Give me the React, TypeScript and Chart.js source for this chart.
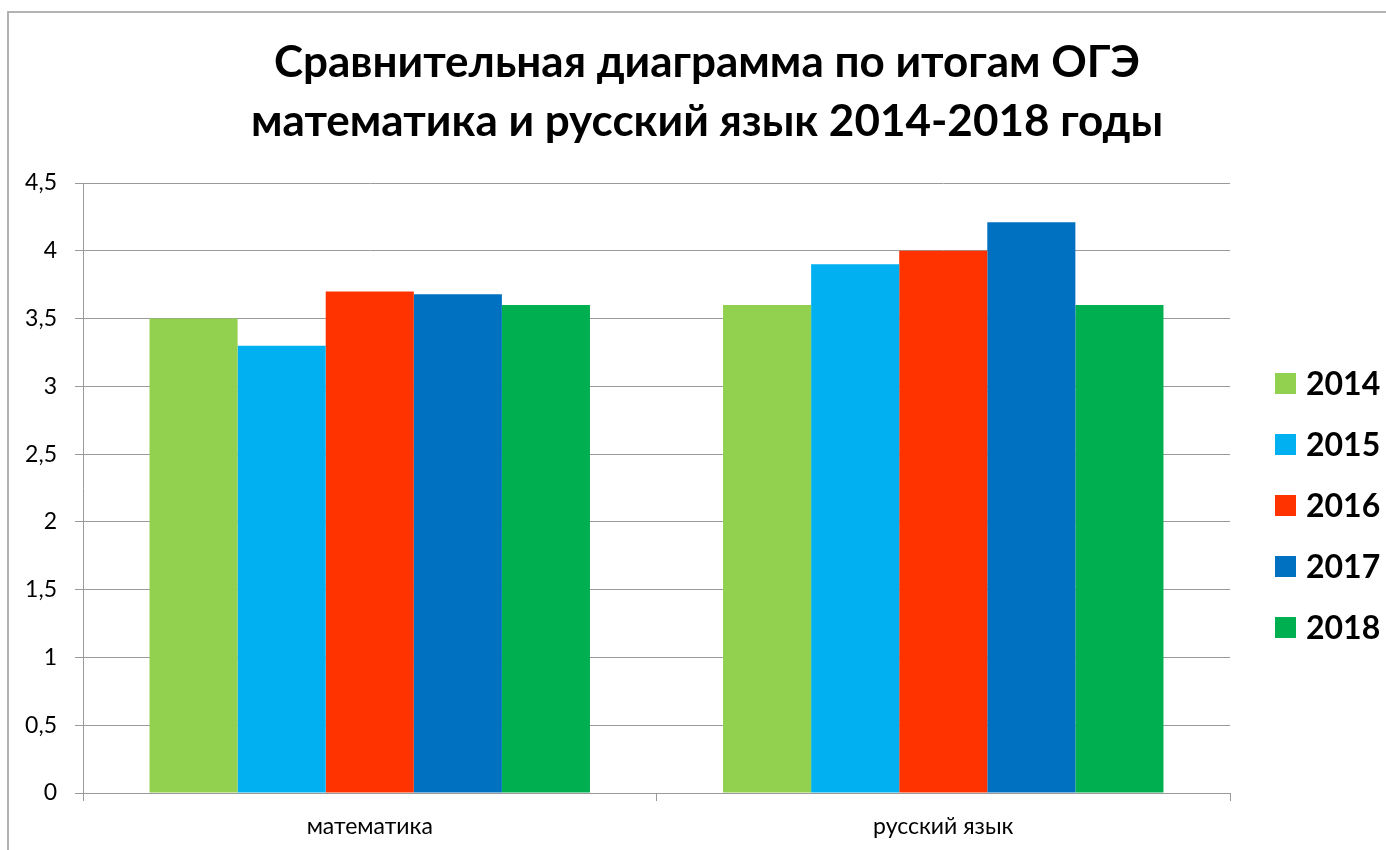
import React, { useEffect, useRef } from "react";
import { Chart, registerables } from "chart.js";

Chart.register(...registerables);

const categories = ["математика", "русский язык"];
const seriesLabels = ["2014", "2015", "2016", "2017", "2018"];
const values2014 = [3.5, 3.6];
const values2015 = [3.3, 3.9];
const values2016 = [3.7, 4.0];
const values2017 = [3.68, 4.21];
const values2018 = [3.6, 3.6];
const seriesColors = ["#92D050", "#00B0F0", "#FF3300", "#0070C0", "#00B050"];
const titleLines = [
  "Сравнительная диаграмма по итогам ОГЭ",
  "математика и русский язык 2014-2018 годы",
];

const FONT = "Lato, 'Open Sans', sans-serif";

const legendPlugin = {
  id: "sideLegend",
  afterDraw(chart: any) {
    const ctx = chart.ctx;
    const ds = chart.data.datasets;
    ctx.save();
    ctx.font = `bold 32px ${FONT}`;
    ctx.textBaseline = "middle";
    ctx.textAlign = "left";
    const x0 = 1275;
    const y0 = 383.5;
    const step = 61;
    ds.forEach((d: any, i: number) => {
      const cy = y0 + i * step;
      ctx.fillStyle = d.backgroundColor;
      ctx.fillRect(x0, cy - 10.5, 21, 21);
      ctx.fillStyle = "#000";
      ctx.fillText(d.label, x0 + 31, cy + 1);
    });
    ctx.restore();
  },
};

const titlePlugin = {
  id: "centerTitle",
  afterDraw(chart: any) {
    const ctx = chart.ctx;
    ctx.save();
    ctx.font = `bold 44px ${FONT}`;
    ctx.textAlign = "center";
    ctx.textBaseline = "alphabetic";
    ctx.fillStyle = "#000";
    titleLines.forEach((t, i) => {
      ctx.fillText(t, 707, 77 + i * 59);
    });
    ctx.restore();
  },
};

export default function App() {
  const ref = useRef<HTMLCanvasElement | null>(null);
  useEffect(() => {
    if (!ref.current) return;
    const seriesValues = [values2014, values2015, values2016, values2017, values2018];
    const chart = new Chart(ref.current, {
      type: "bar",
      data: {
        labels: categories,
        datasets: seriesLabels.map((l, i) => ({
          label: l,
          data: seriesValues[i],
          backgroundColor: seriesColors[i],
          borderWidth: 0,
          barPercentage: 1,
          categoryPercentage: 0.768,
        })),
      },
      options: {
        responsive: false,
        animation: false,
        layout: { padding: { left: 0, right: 156, top: 183, bottom: 0 } },
        plugins: {
          legend: { display: false },
          tooltip: { enabled: false },
          title: { display: false },
        },
        scales: {
          x: {
            afterFit: (s: any) => {
              s.height = 57;
            },
            grid: {
              drawOnChartArea: false,
              drawTicks: true,
              tickLength: 8,
              color: "#9a9a9a",
              offset: true,
            },
            border: { display: true, color: "#9a9a9a", width: 1 },
            ticks: {
              color: "#000",
              padding: 11.5,
              font: { family: FONT, size: 23 },
            },
          },
          y: {
            min: 0,
            max: 4.5,
            afterFit: (s: any) => {
              s.width = 83;
            },
            grid: { color: "#9a9a9a", tickLength: 8, drawTicks: true },
            border: { display: true, color: "#9a9a9a", width: 1 },
            ticks: {
              stepSize: 0.5,
              color: "#000",
              padding: 18,
              font: { family: FONT, size: 23 },
              callback: (v: any) => String(v).replace(".", ","),
            },
          },
        },
      },
      plugins: [legendPlugin, titlePlugin],
    });
    return () => chart.destroy();
  }, []);

  return (
    <div>
      <div
        style={{
          position: "fixed",
          left: 7,
          top: 11,
          width: 1379,
          height: 839,
          boxSizing: "border-box",
          borderTop: "2px solid #b3b3b3",
          borderLeft: "2px solid #b3b3b3",
        }}
      />
      <canvas
        ref={ref}
        width={1386}
        height={850}
        style={{ position: "fixed", left: 0, top: 0, width: 1386, height: 850 }}
      />
    </div>
  );
}
